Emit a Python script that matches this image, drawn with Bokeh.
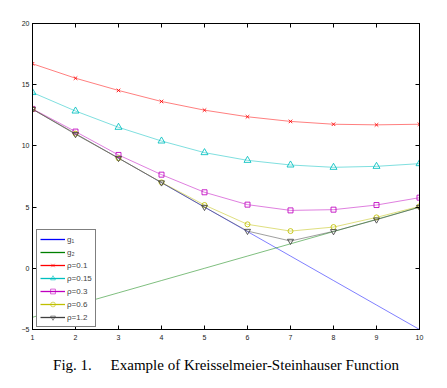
from bokeh.plotting import figure
from bokeh.models import (Range1d, FixedTicker, LinearAxis, Legend, LegendItem,
                          Title, CustomLabelingPolicy)
from bokeh.embed import file_html
from bokeh.resources import INLINE

x = [1, 2, 3, 4, 5, 6, 7, 8, 9, 10]
g1 = [13, 11, 9, 7, 5, 3, 1, -1, -3, -5]
g2 = [-4, -3, -2, -1, 0, 1, 2, 3, 4, 5]
ks_01 = [16.71, 15.53, 14.53, 13.63, 12.92, 12.38, 12.00, 11.77, 11.72, 11.77]
ks_015 = [14.36, 12.85, 11.52, 10.40, 9.45, 8.82, 8.44, 8.25, 8.33, 8.55]
ks_03 = [13.02, 11.17, 9.26, 7.65, 6.21, 5.20, 4.73, 4.79, 5.17, 5.77]
ks_06 = [13.00, 11.00, 8.99, 7.02, 5.17, 3.59, 3.04, 3.37, 4.16, 5.06]
ks_12 = [13.00, 10.95, 9.00, 7.00, 5.00, 3.04, 2.23, 3.02, 3.97, 5.00]

x_ticks = [1, 2, 3, 4, 5, 6, 7, 8, 9, 10]
y_ticks = [-5, 0, 5, 10, 15, 20]
caption = "Fig. 1.\u00a0\u00a0\u00a0\u00a0\u00a0Example of Kreisselmeier-Steinhauser Function"

p = figure(width=447, height=388, output_backend="svg", toolbar_location=None,
           x_range=Range1d(1, 10), y_range=Range1d(-5, 20),
           min_border_left=32, min_border_right=28, min_border_top=23,
           min_border_bottom=59)
p.extra_y_ranges = {"hidden": Range1d(1000, 1001)}
p.xgrid.visible = False
p.ygrid.visible = False
p.outline_line_color = "black"
p.outline_line_width = 1
p.background_fill_color = "white"
p.border_fill_color = "white"

no_labels = CustomLabelingPolicy(code="""
try { for (const i of Array.from(indices)) { indices.unset(i) } } catch (e) {}
return indices
""")

def style_axis(ax, ticks, show_labels, standoff):
    ax.ticker = FixedTicker(ticks=ticks)
    ax.major_tick_in = 4
    ax.major_tick_out = 0
    ax.minor_tick_line_color = None
    ax.axis_line_color = "black"
    ax.major_tick_line_color = "black"
    ax.major_label_standoff = standoff
    ax.major_label_text_font = "Liberation Sans"
    ax.major_label_text_font_size = "7px" if show_labels else "0px"
    ax.major_label_text_color = "#222222"
    if not show_labels:
        ax.major_label_policy = no_labels

style_axis(p.xaxis[0], x_ticks, True, 5)
style_axis(p.yaxis[0], y_ticks, True, 3)
top = LinearAxis()
style_axis(top, x_ticks, False, 0)
right = LinearAxis()
style_axis(right, y_ticks, False, 0)
p.add_layout(top, "above")
p.add_layout(right, "right")

series = [
    ("ρ=0.1", ks_01, "#ff0000", "x", 5),
    ("ρ=0.15", ks_015, "#00bfbf", "triangle", 7),
    ("ρ=0.3", ks_03, "#bf00bf", "square", 5),
    ("ρ=0.6", ks_06, "#bfbf00", "circle", 5),
    ("ρ=1.2", ks_12, "#404040", "inverted_triangle", 6),
]

p.line(x, g1, line_color="#0000ff", line_width=1, line_alpha=0.5)
p.line(x, g2, line_color="#008000", line_width=1, line_alpha=0.5)
for name, ys, col, mk, sz in series:
    p.line(x, ys, line_color=col, line_width=1, line_alpha=0.5)
    p.scatter(x, ys, marker=mk, size=sz, line_color=col, fill_color=None,
              line_width=1, line_alpha=0.85)

# legend glyphs: full-colour copies on an off-screen range
items = []
for lbl, ys, col in [("g₁", g1, "#0000ff"), ("g₂", g2, "#008000")]:
    r = p.line(x, ys, line_color=col, line_width=1.3, y_range_name="hidden")
    items.append(LegendItem(label=lbl, renderers=[r]))
for name, ys, col, mk, sz in series:
    rl = p.line(x, ys, line_color=col, line_width=1.3, y_range_name="hidden")
    rm = p.scatter(x, ys, marker=mk, size=sz, line_color=col, fill_color=None,
                   line_width=1, line_alpha=0.6, y_range_name="hidden")
    items.append(LegendItem(label=name, renderers=[rl, rm]))

legend = Legend(items=items, location=(4, 2), orientation="vertical",
                label_text_font="Liberation Sans", label_text_font_size="8px",
                label_height=12, glyph_height=12, glyph_width=25, spacing=1,
                padding=3, margin=0, label_standoff=2,
                border_line_color="black", border_line_width=1,
                background_fill_color="white", background_fill_alpha=1)
p.add_layout(legend, "center")

p.add_layout(Title(text=caption, align="center", text_font="Liberation Serif",
                   text_font_size="15px", text_font_style="normal",
                   text_color="black", standoff=24), "below")

open("out.html", "w").write(file_html(p, INLINE))
